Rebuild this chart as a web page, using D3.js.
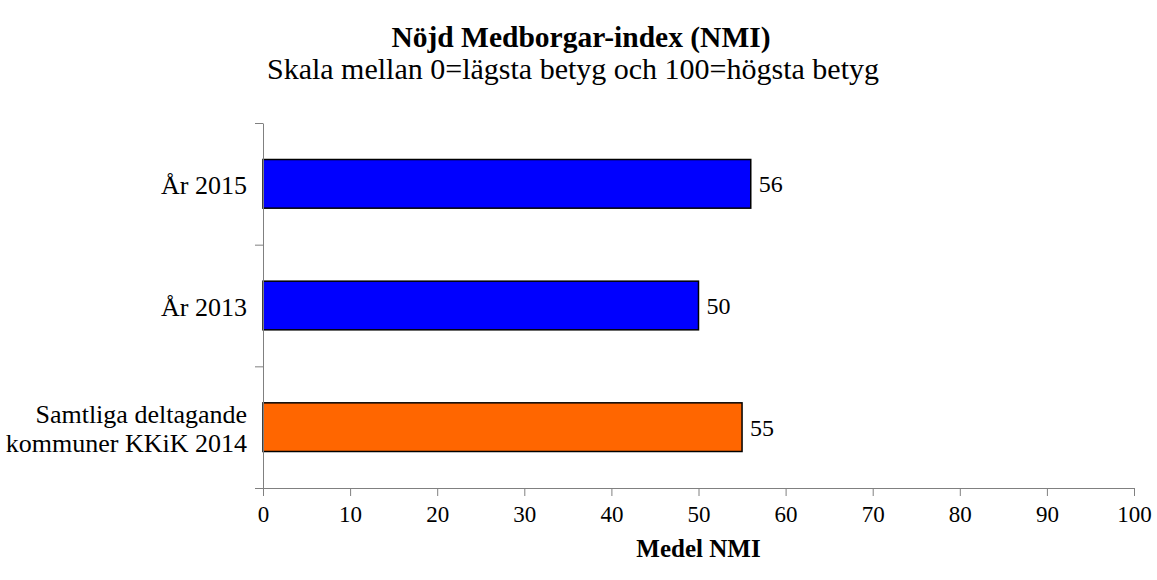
<!DOCTYPE html>
<html>
<head>
<meta charset="utf-8">
<script src="https://cdn.jsdelivr.net/npm/d3@7"></script>
<style>
  body { margin: 0; background: #fff; }
  svg { font-family: "Liberation Serif", "Times New Roman", serif; }
</style>
</head>
<body>
<svg id="chart"></svg>
<script>
const width = 1157;
const height = 580;

// data
const categories = ['År 2015', 'År 2013', 'Samtliga deltagande\nkommuner KKiK 2014'];
const values = [56, 50, 55];
const barColors = ['#0000ff', '#0000ff', '#ff6600'];
const xTicks = d3.range(0, 101, 10);

const margin = { top: 123, right: 23, bottom: 92, left: 263 };

const svg = d3.select('#chart')
    .attr('width', width)
    .attr('height', height);

const x = d3.scaleLinear()
    .domain([0, 100])
    .range([margin.left, width - margin.right]);

const y = d3.scaleBand()
    .domain(categories)
    .range([margin.top, height - margin.bottom])
    .paddingInner(0.6)
    .paddingOuter(0.3);

// bars
svg.selectAll('rect.bar')
    .data(values)
    .join('rect')
    .attr('class', 'bar')
    .attr('x', x(0))
    .attr('y', (d, i) => y(categories[i]))
    .attr('width', d => x(d) - x(0))
    .attr('height', y.bandwidth())
    .attr('fill', (d, i) => barColors[i])
    .attr('stroke', '#000')
    .attr('stroke-width', 1.5);

// value labels
svg.selectAll('text.val')
    .data(values)
    .join('text')
    .attr('class', 'val')
    .attr('x', d => x(d) + 8)
    .attr('y', (d, i) => y(categories[i]) + y.bandwidth() / 2)
    .attr('dy', '0.35em')
    .attr('font-size', 24)
    .text(d => d);

// x axis
const xAxis = svg.append('g')
    .attr('transform', `translate(0,${height - margin.bottom})`)
    .call(d3.axisBottom(x).tickValues(xTicks).tickSize(8).tickPadding(10).tickSizeOuter(0));
xAxis.select('.domain').attr('stroke', '#808080');
xAxis.selectAll('.tick line').attr('stroke', '#808080');
xAxis.selectAll('.tick text')
    .attr('font-size', 23)
    .attr('font-family', '"Liberation Serif", serif')
    .attr('fill', '#000');

// y axis (ticks at band boundaries)
const yEdge = d3.scaleLinear().domain([0, 3]).range([margin.top, height - margin.bottom]);
const yAxis = svg.append('g')
    .attr('transform', `translate(${margin.left},0)`)
    .call(d3.axisLeft(yEdge).ticks(3).tickSize(8).tickFormat('').tickSizeOuter(0));
yAxis.select('.domain').attr('stroke', '#808080');
yAxis.selectAll('.tick line').attr('stroke', '#808080');

// category labels
svg.selectAll('text.cat')
    .data(categories)
    .join('text')
    .attr('class', 'cat')
    .attr('text-anchor', 'end')
    .attr('font-size', 26)
    .each(function(d) {
        const lines = d.split('\n');
        const cy = y(d) + y.bandwidth() / 2;
        const lh = 29;
        d3.select(this).selectAll('tspan')
            .data(lines)
            .join('tspan')
            .attr('x', margin.left - 16)
            .attr('y', (l, i) => cy + 1 + (i - (lines.length - 1) / 2) * lh)
            .attr('dy', '0.35em')
            .text(l => l);
    });

// titles
svg.append('text')
    .attr('x', 581).attr('y', 47)
    .attr('text-anchor', 'middle')
    .attr('font-size', 29.5).attr('font-weight', 'bold')
    .text('Nöjd Medborgar-index (NMI)');
svg.append('text')
    .attr('x', 573).attr('y', 79)
    .attr('text-anchor', 'middle')
    .attr('font-size', 30)
    .text('Skala mellan 0=lägsta betyg och 100=högsta betyg');

svg.append('text')
    .attr('x', (x(0) + x(100)) / 2).attr('y', 557)
    .attr('text-anchor', 'middle')
    .attr('font-size', 25).attr('font-weight', 'bold')
    .text('Medel NMI');
</script>
</body>
</html>
